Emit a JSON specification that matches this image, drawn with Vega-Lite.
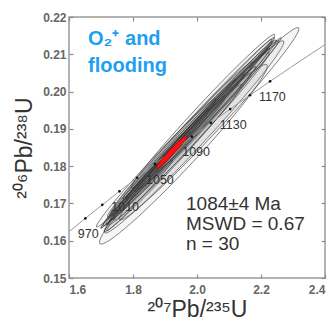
{
  "$schema": "https://vega.github.io/schema/vega-lite/v6.json",
  "width": 256,
  "height": 261,
  "autosize": "none",
  "padding": {"left": 69, "top": 17, "right": 9, "bottom": 44},
  "background": "white",
  "config": {
    "view": {"stroke": "#9a9a9a", "strokeWidth": 1.5},
    "font": "Liberation Sans"
  },
  "datasets": {
    "ellipses": [
      {"id": 1, "x207": 1.9773, "y206": 0.18893, "s207": 0.2704, "rho": "0.95"},
      {"id": 2, "x207": 1.9811, "y206": 0.19046, "s207": 0.2611, "rho": "0.95"},
      {"id": 3, "x207": 1.9735, "y206": 0.18741, "s207": 0.2518, "rho": "0.92"},
      {"id": 4, "x207": 2.0032, "y206": 0.19053, "s207": 0.2518, "rho": "0.95"},
      {"id": 5, "x207": 1.9514, "y206": 0.18734, "s207": 0.2237, "rho": "0.92"},
      {"id": 6, "x207": 2.0001, "y206": 0.1926, "s207": 0.2331, "rho": "0.97"},
      {"id": 7, "x207": 1.9545, "y206": 0.18526, "s207": 0.2144, "rho": "0.92"},
      {"id": 8, "x207": 1.991, "y206": 0.18784, "s207": 0.2797, "rho": "0.88"},
      {"id": 9, "x207": 2.0222, "y206": 0.19267, "s207": 0.2051, "rho": "0.95"},
      {"id": 10, "x207": 1.924, "y206": 0.18404, "s207": 0.1864, "rho": "0.95"},
      {"id": 11, "x207": 1.9278, "y206": 0.18557, "s207": 0.1958, "rho": "0.97"},
      {"id": 12, "x207": 1.9644, "y206": 0.18814, "s207": 0.1864, "rho": "0.97"},
      {"id": 13, "x207": 1.9073, "y206": 0.18171, "s207": 0.1772, "rho": "0.95"},
      {"id": 14, "x207": 1.8898, "y206": 0.18128, "s207": 0.1678, "rho": "0.97"},
      {"id": 15, "x207": 1.873, "y206": 0.17896, "s207": 0.1585, "rho": "0.95"},
      {"id": 16, "x207": 1.8494, "y206": 0.17718, "s207": 0.1492, "rho": "0.97"},
      {"id": 17, "x207": 2.039, "y206": 0.19499, "s207": 0.1864, "rho": "0.97"},
      {"id": 18, "x207": 2.0671, "y206": 0.1964, "s207": 0.1958, "rho": "0.95"},
      {"id": 19, "x207": 2.0191, "y206": 0.19474, "s207": 0.2237, "rho": "0.92"},
      {"id": 20, "x207": 1.9248, "y206": 0.18214, "s207": 0.2144, "rho": "0.92"},
      {"id": 21, "x207": 1.8723, "y206": 0.18085, "s207": 0.1864, "rho": "0.92"},
      {"id": 22, "x207": 1.9453, "y206": 0.18599, "s207": 0.1398, "rho": "0.97"},
      {"id": 23, "x207": 1.9986, "y206": 0.19089, "s207": 0.1492, "rho": "0.97"},
      {"id": 24, "x207": 1.9088, "y206": 0.18342, "s207": 0.1305, "rho": "0.95"},
      {"id": 25, "x207": 2.0161, "y206": 0.19132, "s207": 0.1678, "rho": "0.95"},
      {"id": 26, "x207": 1.8388, "y206": 0.1762, "s207": 0.1398, "rho": "0.95"},
      {"id": 27, "x207": 2.0686, "y206": 0.19811, "s207": 0.1678, "rho": "0.97"},
      {"id": 28, "x207": 1.9575, "y206": 0.18319, "s207": 0.2611, "rho": "0.85"},
      {"id": 29, "x207": 2.0382, "y206": 0.19139, "s207": 0.2797, "rho": "0.88"},
      {"id": 30, "x207": 1.8205, "y206": 0.17217, "s207": 0.1025, "rho": "0.92"}
    ],
    "concordia": [
      {"age": 960, "x207": 1.57398, "y206": 0.16057},
      {"age": 970, "x207": 1.59946, "y206": 0.16238},
      {"age": 990, "x207": 1.65117, "y206": 0.16599},
      {"age": 1010, "x207": 1.70391, "y206": 0.16962},
      {"age": 1030, "x207": 1.7577, "y206": 0.17325},
      {"age": 1050, "x207": 1.81256, "y206": 0.1769},
      {"age": 1070, "x207": 1.8685, "y206": 0.18055},
      {"age": 1090, "x207": 1.92556, "y206": 0.18422},
      {"age": 1110, "x207": 1.98376, "y206": 0.1879},
      {"age": 1130, "x207": 2.04311, "y206": 0.19159},
      {"age": 1150, "x207": 2.10365, "y206": 0.1953},
      {"age": 1170, "x207": 2.16539, "y206": 0.19901},
      {"age": 1190, "x207": 2.22836, "y206": 0.20274},
      {"age": 1210, "x207": 2.29257, "y206": 0.20647},
      {"age": 1230, "x207": 2.35807, "y206": 0.21022},
      {"age": 1250, "x207": 2.42487, "y206": 0.21398}
    ],
    "mean": [
      {"age": 1084, "x207": 1.921, "y206": 0.1838}
    ]
  },
  "resolve": {"axis": {"x": "independent", "y": "independent"}},
  "layer": [
    {
      "data": {"name": "ellipses"},
      "mark": {"type": "point", "clip": true, "angle": 313, "fill": "#7a7a7a", "fillOpacity": 0.08, "stroke": "#2a2a2a", "strokeOpacity": 0.6, "strokeWidth": 0.9},
      "encoding": {
        "x": {"field": "x207", "type": "quantitative",
          "scale": {"domain": [1.6, 2.4], "nice": false, "zero": false},
          "axis": {"title": "²⁰⁷Pb/²³⁵U", "values": [1.6, 1.8, 2.0, 2.2, 2.4], "format": ".1f", "grid": false, "domain": false,
            "tickSize": -4, "tickColor": "#8a8a8a", "tickWidth": 1.2, "labelPadding": 10,
            "labelFont": "Liberation Sans", "labelFontSize": 12, "labelFontWeight": "bold", "labelColor": "#666",
            "titleFont": "Liberation Sans", "titleFontSize": 23, "titleFontWeight": "normal", "titleColor": "#333", "titlePadding": 3}},
        "y": {"field": "y206", "type": "quantitative",
          "scale": {"domain": [0.15, 0.22], "nice": false, "zero": false},
          "axis": {"title": "²⁰⁶Pb/²³⁸U", "values": [0.15, 0.16, 0.17, 0.18, 0.19, 0.2, 0.21, 0.22], "format": ".2f", "grid": false, "domain": false,
            "tickSize": -4, "tickColor": "#8a8a8a", "tickWidth": 1.2, "labelPadding": 7,
            "labelFont": "Liberation Sans", "labelFontSize": 12, "labelFontWeight": "bold", "labelColor": "#666",
            "titleFont": "Liberation Sans", "titleFontSize": 23, "titleFontWeight": "normal", "titleColor": "#333", "titlePadding": 6}},
        "size": {"field": "s207", "type": "quantitative", "scale": {"type": "pow", "exponent": 2, "domain": [0, 0.32], "range": [0, 90000]}, "legend": null},
        "shape": {"field": "rho", "type": "nominal", "legend": null,
          "scale": {"domain": ["0.97", "0.95", "0.92", "0.88", "0.85"],
            "range": [
              "M1,0C1,0.0193 0.5523,0.035 0,0.035C-0.5523,0.035 -1,0.0193 -1,0C-1,-0.0193 -0.5523,-0.035 0,-0.035C0.5523,-0.035 1,-0.0193 1,0Z",
              "M1,0C1,0.0276 0.5523,0.05 0,0.05C-0.5523,0.05 -1,0.0276 -1,0C-1,-0.0276 -0.5523,-0.05 0,-0.05C0.5523,-0.05 1,-0.0276 1,0Z",
              "M1,0C1,0.0359 0.5523,0.065 0,0.065C-0.5523,0.065 -1,0.0359 -1,0C-1,-0.0359 -0.5523,-0.065 0,-0.065C0.5523,-0.065 1,-0.0359 1,0Z",
              "M1,0C1,0.0442 0.5523,0.08 0,0.08C-0.5523,0.08 -1,0.0442 -1,0C-1,-0.0442 -0.5523,-0.08 0,-0.08C0.5523,-0.08 1,-0.0442 1,0Z",
              "M1,0C1,0.0552 0.5523,0.1 0,0.1C-0.5523,0.1 -1,0.0552 -1,0C-1,-0.0552 -0.5523,-0.1 0,-0.1C0.5523,-0.1 1,-0.0552 1,0Z"
            ]}}
      }
    },
    {
      "data": {"name": "concordia"},
      "mark": {"type": "line", "clip": true, "color": "#9a9a9a", "strokeWidth": 1},
      "encoding": {
        "x": {"field": "x207", "type": "quantitative",
          "axis": {"orient": "top", "title": null, "labels": false, "values": [1.6, 1.8, 2.0, 2.2, 2.4], "grid": false, "domain": false, "tickSize": -4, "tickColor": "#8a8a8a", "tickWidth": 1.2}},
        "y": {"field": "y206", "type": "quantitative",
          "axis": {"orient": "right", "title": null, "labels": false, "values": [0.15, 0.16, 0.17, 0.18, 0.19, 0.2, 0.21, 0.22], "grid": false, "domain": false, "tickSize": -4, "tickColor": "#8a8a8a", "tickWidth": 1.2}},
        "order": {"field": "age", "type": "quantitative"}
      }
    },
    {
      "data": {"name": "concordia"},
      "transform": [{"filter": "datum.age >= 990 && datum.age <= 1190"}],
      "mark": {"type": "point", "shape": "circle", "filled": true, "color": "#111", "size": 7, "opacity": 1},
      "encoding": {
        "x": {"field": "x207", "type": "quantitative", "axis": null},
        "y": {"field": "y206", "type": "quantitative", "axis": null}
      }
    },
    {
      "data": {"name": "mean"},
      "mark": {"type": "point", "angle": 313, "filled": true, "fill": "#ff1010", "fillOpacity": 1, "stroke": "#e00000", "strokeWidth": 0.6, "opacity": 1,
        "shape": "M1,0C1,0.0608 0.5523,0.11 0,0.11C-0.5523,0.11 -1,0.0608 -1,0C-1,-0.0608 -0.5523,-0.11 0,-0.11C0.5523,-0.11 1,-0.0608 1,0Z", "size": 1936},
      "encoding": {
        "x": {"field": "x207", "type": "quantitative", "axis": null},
        "y": {"field": "y206", "type": "quantitative", "axis": null}
      }
    },
    {
      "data": {"name": "concordia"},
      "transform": [{"filter": "datum.age >= 970 && datum.age <= 1170 && (datum.age - 970) % 40 == 0"}],
      "mark": {"type": "text", "align": "left", "baseline": "middle", "dx": 9, "dy": 2, "font": "Liberation Sans", "fontSize": 12.5, "color": "#333"},
      "encoding": {
        "x": {"field": "x207", "type": "quantitative", "axis": null},
        "y": {"field": "y206", "type": "quantitative", "axis": null},
        "text": {"field": "age", "type": "nominal"}
      }
    },
    {
      "data": {"values": [{}]},
      "mark": {"type": "text", "align": "left", "baseline": "alphabetic", "font": "Liberation Sans", "fontSize": 20, "fontWeight": "bold", "color": "#1f9ff2", "lineHeight": 27},
      "encoding": {
        "x": {"datum": 1.6594, "type": "quantitative", "axis": null},
        "y": {"datum": 0.2125, "type": "quantitative", "axis": null},
        "text": {"value": ["O₂⁺ and", "flooding"]}
      }
    },
    {
      "data": {"values": [{}]},
      "mark": {"type": "text", "align": "left", "baseline": "alphabetic", "font": "Liberation Sans", "fontSize": 19, "color": "#333", "lineHeight": 20},
      "encoding": {
        "x": {"datum": 1.9656, "type": "quantitative", "axis": null},
        "y": {"datum": 0.1683, "type": "quantitative", "axis": null},
        "text": {"value": ["1084±4 Ma", "MSWD = 0.67", "n = 30"]}
      }
    }
  ]
}
